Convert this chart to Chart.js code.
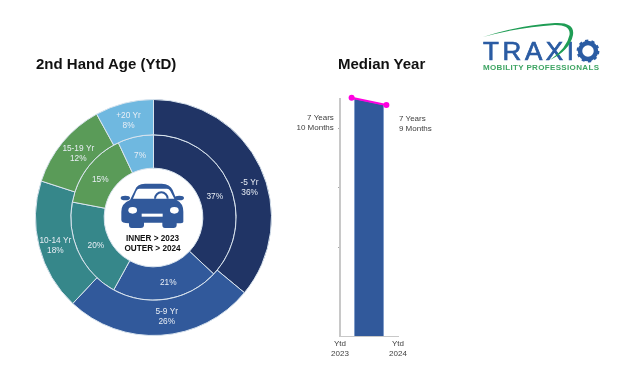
<!DOCTYPE html>
<html><head><meta charset="utf-8">
<script src="https://cdn.jsdelivr.net/npm/chart.js@4"></script>
<style>
html,body{margin:0;padding:0;background:#fff;width:635px;height:380px;overflow:hidden}
canvas{position:absolute;left:0;top:0}
.t{position:absolute;font:bold 15px "Liberation Sans",Arial,sans-serif;color:#111;white-space:nowrap;line-height:18px}
svg{position:absolute;left:0;top:0}
</style></head><body>
<canvas id="donut" width="635" height="380"></canvas>
<canvas id="median" width="635" height="380"></canvas>
<div class="t" style="left:36px;top:55px">2nd Hand Age (YtD)</div>
<div class="t" style="left:338px;top:55px">Median Year</div>
<svg width="635" height="380" font-family="Liberation Sans, Arial, sans-serif">
<text x="483" y="60" font-size="26" fill="#2b5ca3" stroke="#2b5ca3" stroke-width="0.7" textLength="91" lengthAdjust="spacing">TRAXI</text>
<path d="M483,37 Q520,25 555,23 Q575,22 573,35 Q570,50 550,60 Q567,48 569.5,35 Q571,25 555,25 Q520,27 483,37 Z" fill="#1f9d55"/>
<circle cx="588" cy="51" r="8" fill="none" stroke="#2b5ca3" stroke-width="4.5"/>
<circle cx="588" cy="51" r="10.3" fill="none" stroke="#2b5ca3" stroke-width="2.2" stroke-dasharray="3.2 3.27"/>
<text x="483" y="70" font-size="8" font-weight="bold" fill="#3fa564" textLength="116" lengthAdjust="spacing">MOBILITY PROFESSIONALS</text>
</svg>
<script>
// Doughnut data
const ageCategories = ['-5 Yr', '5-9 Yr', '10-14 Yr', '15-19 Yr', '+20 Yr'];
const share2024 = [36, 26, 18, 12, 8];   // outer ring
const share2023 = [37, 21, 20, 15, 7];   // inner ring
const ageColors = ['#203465', '#31599b', '#36878a', '#5a9b58', '#6fb8e0'];
const centerLines = ['INNER > 2023', 'OUTER > 2024'];
// Hand placement of the labels relative to each arc centre
const outerNudge = [[5.3,13.1],[6.9,-0.7],[-0.9,3.4],[2.1,0],[0,0]];
const innerNudge = [[0.7,5.5],[4.4,0.4],[2.1,0],[-1.1,3.1],[1,2.2]];

// Median year data
const periodTicks = [['Ytd','2023'],['Ytd','2024']];
const medianX = [0.2, 0.8];
const medianY = [7.1018, 7.0919];
const barX = [0.25, 0.25, 0.75, 0.75];
const barY = [6.78, 7.1005, 7.0924, 6.78];
const yTickValues = [6.9, 6.98, 7.06];
const medianText = [['7 Years','10 Months'],['7 Years','9 Months']];

const FONT = '"Liberation Sans", Arial, sans-serif';

const donutLabels = {
  id:'donutLabels',
  afterDatasetsDraw(chart){
    const c = chart.ctx;
    c.save();
    c.textAlign='center'; c.textBaseline='middle';
    c.fillStyle='#e9eef5'; c.font='8.3px '+FONT;
    chart.getDatasetMeta(0).data.forEach((a,i)=>{
      const p=a.getCenterPoint();
      const x=p.x+outerNudge[i][0], y=p.y+outerNudge[i][1];
      c.fillText(ageCategories[i],x,y-5);
      c.fillText(share2024[i]+'%',x,y+5);
    });
    chart.getDatasetMeta(1).data.forEach((a,i)=>{
      const p=a.getCenterPoint();
      c.fillText(share2023[i]+'%',p.x+innerNudge[i][0],p.y+innerNudge[i][1]);
    });
    // centre: car icon and ring legend
    const a0=chart.getDatasetMeta(0).data[0];
    const cx=a0.x, cy=a0.y;
    c.fillStyle='#111'; c.font='bold 8.2px '+FONT;
    c.fillText(centerLines[0],cx-1,cy+21);
    c.fillText(centerLines[1],cx-1,cy+31.5);
    c.translate(cx-133.5,cy-127.5);
    c.scale(1/3,1/3);
    c.fillStyle='#31599b';
    c.fill(new Path2D('M345,300 Q350,282 375,281 L425,281 Q450,282 458,300 L470,330 Q490,340 490,365 L490,395 Q490,400 475,400 L470,400 L470,405 Q470,414 460,414 L435,414 Q427,414 427,405 L427,398 L372,398 L372,405 Q372,414 362,414 L335,414 Q327,414 327,405 L327,400 Q304,400 304,390 L304,365 Q304,340 330,330 Z'));
    c.beginPath(); c.ellipse(316,324,14,7,0,0,7); c.fill();
    c.beginPath(); c.ellipse(478,324,14,7,0,0,7); c.fill();
    c.fillStyle='#fff';
    c.fill(new Path2D('M358,296 Q352,296 349,303 L339,326 L463,326 L451,303 Q447,296 441,296 Z'));
    c.beginPath(); c.ellipse(338,361,13,10,0,0,7); c.fill();
    c.beginPath(); c.ellipse(463,361,13,10,0,0,7); c.fill();
    c.fillRect(365,371,63,9);
    c.strokeStyle='#31599b'; c.lineWidth=6;
    c.beginPath(); c.arc(424,326,19,Math.PI,0); c.stroke();
    c.restore();
  }
};

new Chart(document.getElementById('donut'),{
  type:'doughnut',
  data:{labels:ageCategories,datasets:[
    {data:share2024,backgroundColor:ageColors,borderColor:'#d9e4ee',borderWidth:1,weight:35.5},
    {data:share2023,backgroundColor:ageColors,borderColor:'#d9e4ee',borderWidth:1,weight:33.5}
  ]},
  options:{responsive:false,animation:false,cutout:'41.8%',
    layout:{padding:{left:35,right:363,top:99,bottom:44}},
    plugins:{legend:{display:false},tooltip:{enabled:false}}},
  plugins:[donutLabels]
});

const medianLabels = {
  id:'medianLabels',
  afterDatasetsDraw(chart){
    const c=chart.ctx, xs=chart.scales.x, ys=chart.scales.y;
    c.save();
    c.fillStyle='#404040'; c.font='8px '+FONT; c.textBaseline='middle';
    c.textAlign='right';
    let x=xs.getPixelForValue(medianX[0])-17.8, y=ys.getPixelForValue(medianY[0]);
    medianText[0].forEach((t,i)=>c.fillText(t,x,y+20.6+i*10));
    c.textAlign='left';
    x=xs.getPixelForValue(medianX[1])+12.5; y=ys.getPixelForValue(medianY[1]);
    medianText[1].forEach((t,i)=>c.fillText(t,x,y+13.3+i*10));
    c.restore();
  }
};

new Chart(document.getElementById('median'),{
  type:'scatter',
  data:{datasets:[
    {data:medianX.map((x,i)=>({x,y:medianY[i]})),showLine:true,borderColor:'#ff00e0',backgroundColor:'#ff00e0',
     borderWidth:2,pointRadius:3,pointBackgroundColor:'#ff00e0',pointBorderWidth:0,clip:false,tension:0},
    {data:barX.map((x,i)=>({x,y:barY[i]})),showLine:true,borderColor:'#7f9cc9',backgroundColor:'#31599b',
     borderWidth:1,pointRadius:0,fill:'origin',tension:0}
  ]},
  options:{responsive:false,animation:false,
    layout:{padding:{left:300,right:237,top:99,bottom:0}},
    plugins:{legend:{display:false},tooltip:{enabled:false}},
    scales:{
      x:{type:'linear',min:0,max:1,
        grid:{display:false,drawTicks:false},border:{color:'#c8c8c8',width:1},
        afterBuildTicks(s){s.ticks=[{value:0},{value:1}];},
        afterFit(s){s.height=44;},
        ticks:{autoSkip:false,maxRotation:0,color:'#404040',font:{family:FONT,size:8},padding:3,
          callback(v){return periodTicks[v];}}
      },
      y:{type:'linear',min:6.78,max:7.10,
        afterBuildTicks(s){s.ticks=yTickValues.map(value=>({value}));},
        afterFit(s){s.width=40;},
        grid:{drawOnChartArea:false,drawTicks:true,tickLength:2,color:'#a8a8a8'},
        border:{color:'#c8c8c8',width:2},
        ticks:{display:false}
      }
    }
  },
  plugins:[medianLabels]
});
</script>
</body></html>
